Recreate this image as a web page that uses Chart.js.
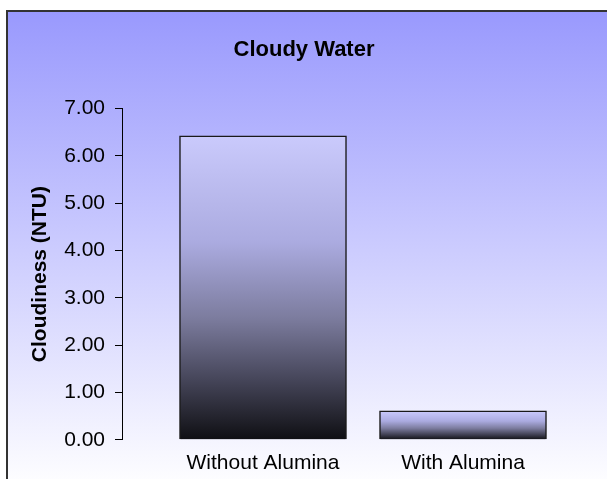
<!DOCTYPE html>
<html>
<head>
<meta charset="utf-8">
<script src="https://cdn.jsdelivr.net/npm/chart.js@4"></script>
<style>
	html, body { margin: 0; padding: 0; background: #fff; overflow: hidden; }
	#wrap { width: 607px; height: 479px; }
</style>
</head>
<body>
<div id="wrap"><canvas id="cloudChart" width="607" height="479"></canvas></div>
<script>
// chart data
const categories = ["Without Alumina", "With Alumina"];
const cloudiness = [6.42, 0.61];
const yTicks = [0, 1, 2, 3, 4, 5, 6, 7];

const fontFamily = "'Liberation Sans', Arial, sans-serif";

// frame with the blue-to-white background (right and bottom edges run off the picture)
const framePlugin = {
	id: 'frame',
	beforeDraw(chart) {
		const c = chart.ctx;
		const grad = c.createLinearGradient(0, 11, 0, 490);
		grad.addColorStop(0, '#9999fd');
		grad.addColorStop(1, '#ffffff');
		c.save();
		c.fillStyle = grad;
		c.fillRect(7, 11, 620, 500);
		c.strokeStyle = '#333333';
		c.lineWidth = 2;
		c.beginPath();
		c.moveTo(7, 500);
		c.lineTo(7, 11);
		c.lineTo(620, 11);
		c.stroke();
		c.restore();
	}
};

// lavender to black, over each bar's own height
function barGradient(context) {
	const chart = context.chart;
	const y = chart.scales.y;
	if (!y || context.dataIndex === undefined) return '#ccccff';
	const top = y.getPixelForValue(cloudiness[context.dataIndex]);
	const base = y.getPixelForValue(0);
	if (!isFinite(top) || !isFinite(base) || top === base) return '#ccccff';
	const g = chart.ctx.createLinearGradient(0, top, 0, base);
	g.addColorStop(0, '#cacafc');
	g.addColorStop(0.35, '#ababe0');
	g.addColorStop(0.6, '#7c7c9e');
	g.addColorStop(0.8, '#46465a');
	g.addColorStop(1, '#0f0f13');
	return g;
}

const config = {
	type: 'bar',
	data: {
		datasets: [{
			label: 'Cloudiness',
			data: categories.map((c, i) => ({ x: i, y: cloudiness[i] })),
			backgroundColor: barGradient,
			borderColor: '#1a1a1a',
			borderWidth: 1.5,
			barThickness: 167
		}]
	},
	options: {
		responsive: false,
		animation: false,
		layout: { padding: { top: 10, left: 8, right: 7, bottom: 0 } },
		plugins: {
			legend: { display: false },
			tooltip: { enabled: false },
			title: {
				display: true,
				text: 'Cloudy Water',
				color: '#000',
				font: { family: fontFamily, size: 22, weight: 'bold' },
				padding: { top: 27, bottom: 45 }
			}
		},
		scales: {
			x: {
				type: 'linear',
				offset: false,
				min: -0.705,
				max: 1.685,
				grid: { display: false, offset: false },
				border: { display: false },
				afterBuildTicks: scale => {
					scale.ticks = categories.map((c, i) => ({ value: i }));
				},
				ticks: {
					color: '#000',
					padding: 3,
					maxRotation: 0,
					autoSkip: false,
					font: { family: fontFamily, size: 21 },
					callback: v => categories[v]
				}
			},
			y: {
				min: 0,
				max: 7,
				afterBuildTicks: scale => {
					scale.ticks = yTicks.map(v => ({ value: v }));
				},
				afterFit: scale => { scale.width = 114; },
				grid: {
					drawOnChartArea: false,
					drawTicks: true,
					tickLength: 7,
					color: '#000',
					lineWidth: 1
				},
				border: { display: true, color: '#000', width: 1 },
				ticks: {
					color: '#000',
					padding: 10,
					font: { family: fontFamily, size: 21 },
					callback: v => v.toFixed(2)
				},
				title: {
					display: true,
					text: 'Cloudiness (NTU)',
					color: '#000',
					font: { family: fontFamily, size: 21, weight: 'bold' },
					padding: { top: 20, bottom: 0 }
				}
			}
		}
	},
	plugins: [framePlugin]
};

const cloudChart = new Chart(document.getElementById('cloudChart'), config);
</script>
</body>
</html>
